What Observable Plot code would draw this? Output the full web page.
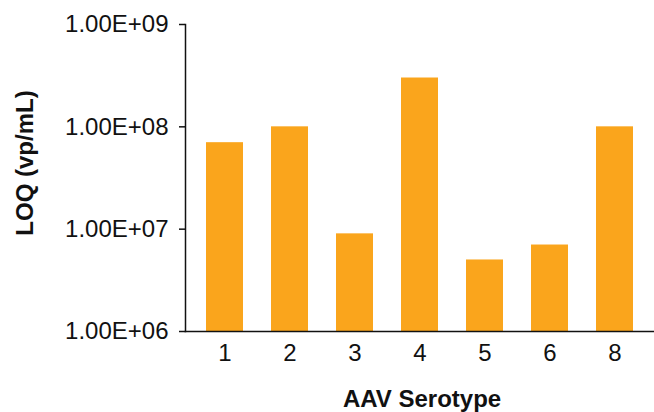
<!DOCTYPE html>
<html>
<head>
<meta charset="utf-8">
<script src="https://cdn.jsdelivr.net/npm/d3@7"></script>
<script src="https://cdn.jsdelivr.net/npm/@observablehq/plot@0.6"></script>
<style>
  html, body { margin: 0; padding: 0; background: #fff; }
  svg { display: block; }
</style>
</head>
<body>
<div id="chart"></div>
<script>
const serotypes = ["1", "2", "3", "4", "5", "6", "8"];
const loqValues = [7e7, 1e8, 9e6, 3e8, 5e6, 7e6, 1e8];
const yTicks = [1e6, 1e7, 1e8, 1e9];
const yTickLabels = ["1.00E+06", "1.00E+07", "1.00E+08", "1.00E+09"];
const xTitle = "AAV Serotype";
const yTitle = "LOQ (vp/mL)";

const data = serotypes.map((s, i) => ({serotype: s, loq: loqValues[i]}));

const chart = Plot.plot({
  width: 654,
  height: 412,
  marginTop: 24,
  marginBottom: 81,
  marginLeft: 185,
  marginRight: 0,
  style: {fontFamily: "'Liberation Sans', Arial, sans-serif", color: "#111", background: "#fff"},
  x: {domain: serotypes, paddingInner: 0.43, paddingOuter: 0.30, label: null},
  y: {type: "log", domain: [1e6, 1e9], label: null},
  marks: [
    Plot.barY(data, {x: "serotype", y1: 1e6, y2: "loq", fill: "#FAA51C"}),
    Plot.axisY({ticks: yTicks, tickFormat: d => yTickLabels[yTicks.indexOf(d)], tickSize: 6, tickPadding: 11, fontSize: 24, stroke: "#111", fill: "#111", strokeWidth: 1.5, label: null}),
    Plot.axisX({tickSize: 0, tickPadding: 12, fontSize: 24, fill: "#111", label: null}),
    Plot.frame({anchor: "left", stroke: "#111", strokeWidth: 1.5}),
    Plot.frame({anchor: "bottom", stroke: "#111", strokeWidth: 1.5}),
    Plot.text([yTitle], {frameAnchor: "left", textAnchor: "middle", lineAnchor: "middle", dx: -160, dy: -15, rotate: -90, fontSize: 24, fontWeight: "bold", fill: "#111"}),
    Plot.text([xTitle], {frameAnchor: "bottom", textAnchor: "middle", lineAnchor: "middle", dx: 2, dy: 68, fontSize: 24, fontWeight: "bold", fill: "#111"})
  ]
});
document.getElementById("chart").appendChild(chart);
</script>
</body>
</html>
